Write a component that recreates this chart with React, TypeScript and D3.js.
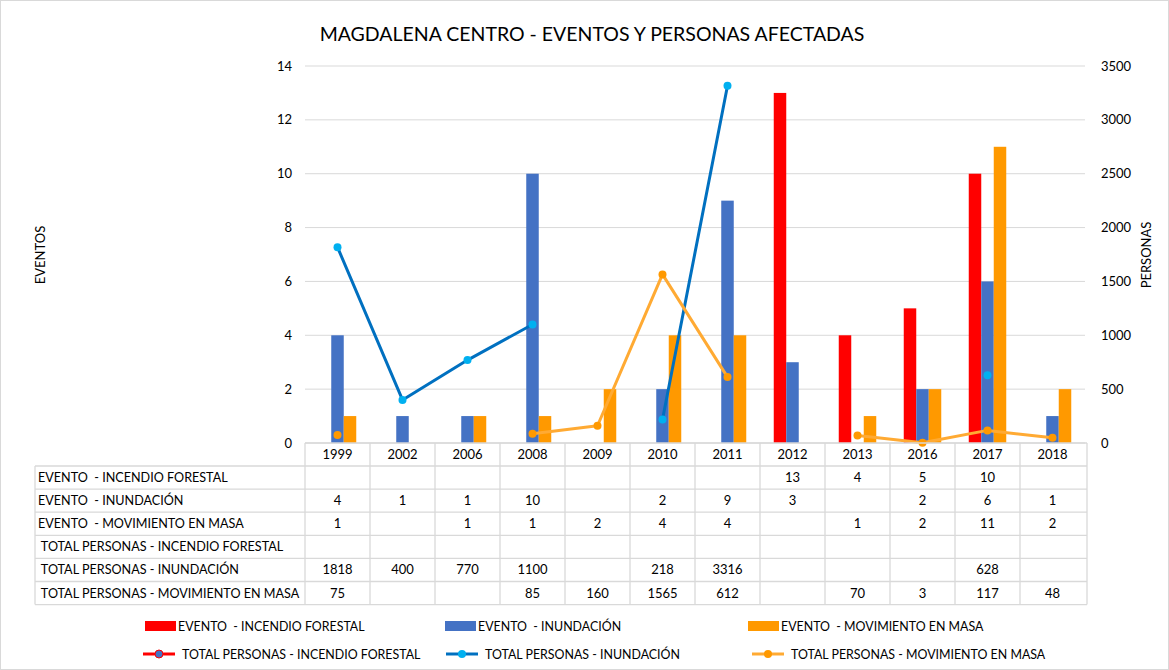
import React from "react";
import * as d3 from "d3";

const years = ["1999","2002","2006","2008","2009","2010","2011","2012","2013","2016","2017","2018"];
const eventoIncendio: (number|null)[] = [null,null,null,null,null,null,null,13,4,5,10,null];
const eventoInundacion: (number|null)[] = [4,1,1,10,null,2,9,3,null,2,6,1];
const eventoMovimiento: (number|null)[] = [1,null,1,1,2,4,4,null,1,2,11,2];
const personasIncendio: (number|null)[] = [null,null,null,null,null,null,null,null,null,null,null,null];
const personasInundacion: (number|null)[] = [1818,400,770,1100,null,218,3316,null,null,null,628,null];
const personasMovimiento: (number|null)[] = [75,null,null,85,160,1565,612,null,70,3,117,48];
const leftTicks = [0,2,4,6,8,10,12,14];
const rightTicks = [0,500,1000,1500,2000,2500,3000,3500];

const C = {
  red: "#FF0000",
  blue: "#4472C4",
  orange: "#FF9900",
  lineBlue: "#0070C0",
  markBlue: "#00B0F0",
  lineOrange: "#FFAA33",
  markOrange: "#FF9900",
  grid: "#D9D9D9",
  text: "#000000",
};

const FONT = "Lato, 'Liberation Sans', sans-serif";

export default function App() {
  const W = 1169, H = 670;
  const x0 = 305, x1 = 1085, yTop = 66, yBot = 443;
  const x = d3.scaleBand<string>().domain(years).range([x0, x1]);
  const yL = d3.scaleLinear().domain([0, 14]).range([yBot, yTop]);
  const yR = d3.scaleLinear().domain([0, 3500]).range([yBot, yTop]);
  const bw = 12.5;
  const barSeries = [
    { vals: eventoIncendio, color: C.red, off: -1 },
    { vals: eventoInundacion, color: C.blue, off: 0 },
    { vals: eventoMovimiento, color: C.orange, off: 1 },
  ];
  const cx = (i: number) => (x(years[i]) as number) + x.bandwidth() / 2;

  const lineGen = d3.line<number | null>()
    .defined((d) => d != null)
    .x((_, i) => cx(i))
    .y((d) => yR(d as number));

  const lineSeries = [
    { vals: personasIncendio, line: C.red, mark: C.red },
    { vals: personasInundacion, line: C.lineBlue, mark: C.markBlue },
    { vals: personasMovimiento, line: C.lineOrange, mark: C.markOrange },
  ];

  const rowLabels = [
    "EVENTO  - INCENDIO FORESTAL",
    "EVENTO  - INUNDACIÓN",
    "EVENTO  - MOVIMIENTO EN MASA",
    " TOTAL PERSONAS - INCENDIO FORESTAL",
    " TOTAL PERSONAS - INUNDACIÓN",
    " TOTAL PERSONAS - MOVIMIENTO EN MASA",
  ];
  const rowData = [eventoIncendio, eventoInundacion, eventoMovimiento, personasIncendio, personasInundacion, personasMovimiento];
  const tableLeft = 35;
  const headerTop = yBot, headerH = 23;
  const rowH = 23.1;
  const rowsTop = headerTop + headerH;
  const tableBottom = rowsTop + rowH * 6;

  return (
    <svg width={W} height={H} style={{ display: "block", position: "absolute", left: 0, top: 0 }} fontFamily={FONT}>
      <rect x={0.5} y={0.5} width={W - 1} height={H - 1} fill="#fff" stroke="#D9D9D9" />
      <text x={592} y={41} textAnchor="middle" fontSize={19.5} fill="#000">MAGDALENA CENTRO - EVENTOS Y PERSONAS AFECTADAS</text>

      {leftTicks.map((t) => (
        <line key={t} x1={x0} x2={x1} y1={yL(t)} y2={yL(t)} stroke={C.grid} strokeWidth={1} />
      ))}
      {leftTicks.map((t) => (
        <text key={"l" + t} x={292} y={yL(t) + 4.5} textAnchor="end" fontSize={13}>{t}</text>
      ))}
      {rightTicks.map((t) => (
        <text key={"r" + t} x={1101} y={yR(t) + 4.5} textAnchor="start" fontSize={13}>{t}</text>
      ))}
      <text transform={`translate(45,255) rotate(-90)`} textAnchor="middle" fontSize={13}>EVENTOS</text>
      <text transform={`translate(1151,255) rotate(-90)`} textAnchor="middle" fontSize={13}>PERSONAS</text>

      {barSeries.map((s, si) =>
        s.vals.map((v, i) =>
          v == null ? null : (
            <rect key={si + "-" + i} x={cx(i) + s.off * bw - bw / 2} y={yL(v)} width={bw} height={yBot - yL(v)} fill={s.color} />
          )
        )
      )}

      {lineSeries.map((s, si) => (
        <g key={"ls" + si}>
          <path d={lineGen(s.vals) || ""} fill="none" stroke={s.line} strokeWidth={3} strokeLinejoin="round" />
          {s.vals.map((v, i) => v == null ? null : (
            <circle key={i} cx={cx(i)} cy={yR(v)} r={4} fill={s.mark} />
          ))}
        </g>
      ))}

      <g stroke={C.grid} strokeWidth={1.3} fill="none">
        <line x1={x0} x2={x1 + 2} y1={headerTop} y2={headerTop} />
        {d3.range(7).map((r) => (
          <line key={"h" + r} x1={tableLeft} x2={x1 + 2} y1={rowsTop + r * rowH} y2={rowsTop + r * rowH} />
        ))}
        <line x1={tableLeft} x2={tableLeft} y1={rowsTop} y2={tableBottom} />
        {years.map((y, i) => (
          <line key={"v" + i} x1={x(y)} x2={x(y)} y1={headerTop} y2={tableBottom} />
        ))}
        <line x1={x1 + 2} x2={x1 + 2} y1={headerTop} y2={tableBottom} />
      </g>
      {years.map((y, i) => (
        <text key={"hy" + i} x={cx(i)} y={headerTop + 16} textAnchor="middle" fontSize={13}>{y}</text>
      ))}
      {rowLabels.map((lab, r) => (
        <text key={"rl" + r} x={tableLeft + 3} y={rowsTop + r * rowH + 16} fontSize={12.6} style={{ whiteSpace: "pre" }}>{lab}</text>
      ))}
      {rowData.map((vals, r) =>
        vals.map((v, i) => v == null ? null : (
          <text key={r + "-" + i} x={cx(i)} y={rowsTop + r * rowH + 16} textAnchor="middle" fontSize={13}>{v}</text>
        ))
      )}

      {[
        { x: 145, label: "EVENTO  - INCENDIO FORESTAL", color: C.red },
        { x: 445, label: "EVENTO  - INUNDACIÓN", color: C.blue },
        { x: 748, label: "EVENTO  - MOVIMIENTO EN MASA", color: C.orange },
      ].map((it, k) => (
        <g key={"lg1" + k}>
          <rect x={it.x} y={621} width={31} height={10} fill={it.color} />
          <text x={it.x + 33} y={631} fontSize={12.4} style={{ whiteSpace: "pre" }}>{it.label}</text>
        </g>
      ))}
      {[
        { x: 143, label: "TOTAL PERSONAS - INCENDIO FORESTAL", line: C.red, mark: "#4472C4" },
        { x: 446, label: "TOTAL PERSONAS - INUNDACIÓN", line: C.lineBlue, mark: C.markBlue },
        { x: 752, label: "TOTAL PERSONAS - MOVIMIENTO EN MASA", line: C.lineOrange, mark: C.markOrange },
      ].map((it, k) => (
        <g key={"lg2" + k}>
          <line x1={it.x} x2={it.x + 32} y1={654} y2={654} stroke={it.line} strokeWidth={3} />
          <circle cx={it.x + 16} cy={654} r={4} fill={it.mark} stroke={it.line} strokeWidth={k === 0 ? 1 : 0} />
          <text x={it.x + 39} y={659} fontSize={12.4}>{it.label}</text>
        </g>
      ))}
    </svg>
  );
}
